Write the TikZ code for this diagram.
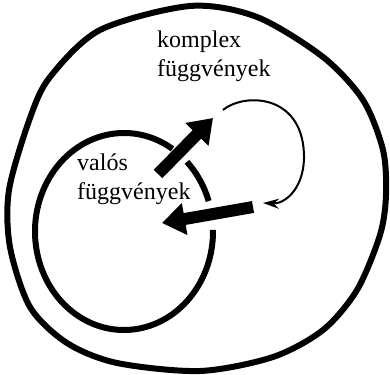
\documentclass[tikz,border=0pt]{standalone}
\usepackage{fontspec}
\setmainfont{Liberation Serif}
\usetikzlibrary{arrows.meta}
\tikzstyle{setline}=[line width=6pt]
\tikzstyle{bigarrow}=[line width=12pt, -{Triangle[width=31pt, length=23pt]}]
\tikzstyle{loopline}=[line width=2pt, -{Stealth[width=10pt, length=16pt]}]
\tikzstyle{setname}=[inner sep=0pt, align=left, anchor=base west, font=\fontsize{24}{29.5}\selectfont]

\begin{document}
\begin{tikzpicture}[x=1pt, y=1pt]
    \useasboundingbox (0,0) rectangle (390,374);
    \coordinate (realc) at (124,142.5);
    \coordinate (upa) at (158,200);
    \coordinate (upb) at (213,256);
    \coordinate (downa) at (253,167);
    \coordinate (downb) at (162,151);
    \coordinate (loopa) at (223,264);
    \coordinate (loopb) at (304,215);
    \coordinate (loopc) at (263,171);
    \draw[setline] plot[smooth cycle] coordinates {(190,368) (257,357) (323,317) (363,274) (383,224) (386,179) (380,139) (357,84) (323,44) (273,17) (200,3) (117,11) (67,31) (30,67) (10,127) (9,184) (30,256) (50,297) (100,344)};
    \draw[setline] ([shift={(realc)}]57:89 and 98.5) arc[start angle=57, end angle=361, x radius=89, y radius=98.5];
    \draw[setline] ([shift={(realc)}]18:89 and 98.5) arc[start angle=18, end angle=45, x radius=89, y radius=98.5];
    \draw[bigarrow] (upa) -- (upb);
    \draw[bigarrow] (downa) -- (downb);
    \draw[loopline] (loopa) .. controls (245,282) and (305,280) .. (loopb) .. controls (303,185) and (285,170) .. (loopc);
    \node[setname] (complexname) at (157,297) {komplex\\függvények};
    \node[setname] (realname) at (77,174) {valós\\függvények};
\end{tikzpicture}
\end{document}
